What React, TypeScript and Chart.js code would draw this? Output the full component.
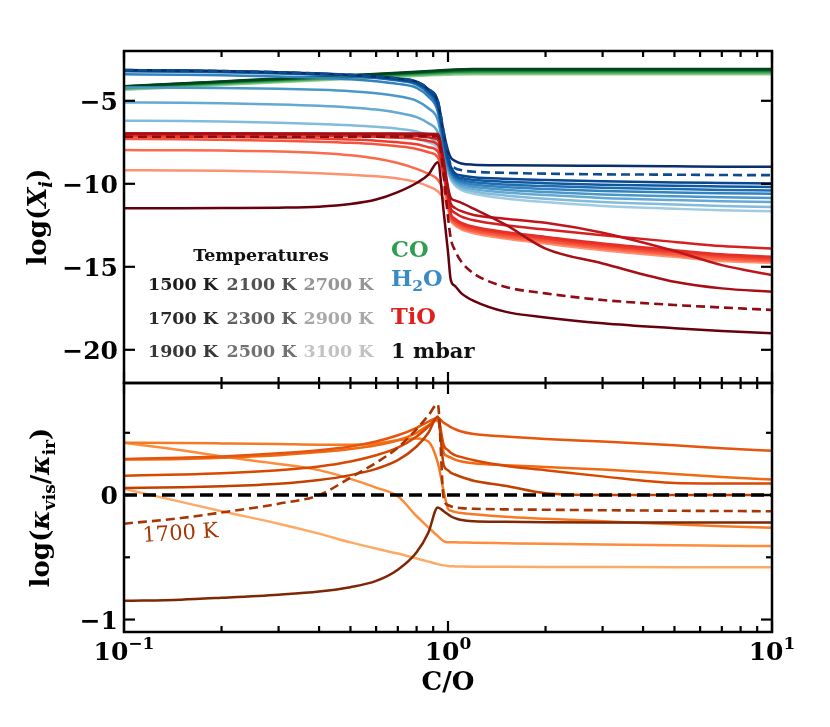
import React, { useEffect, useRef } from "react";
import { Chart, registerables } from "chart.js";

Chart.register(...registerables);

// ---------------- data ----------------
// C/O grid of the model runs
const C_TO_O = [0.1, 0.15, 0.2, 0.3, 0.4, 0.5, 0.6, 0.7, 0.8, 0.87, 0.93, 0.97, 1.0, 1.02, 1.05, 1.1, 1.2, 1.5, 2, 3, 5, 7, 10];
const C_TO_O_CO = [0.1, 0.2, 0.3, 0.5, 0.7, 0.85, 0.95, 1.05, 1.2, 1.5, 3, 10];

const TEMPERATURES = ["1500 K", "1700 K", "1900 K", "2100 K", "2300 K", "2500 K", "2700 K", "2900 K", "3100 K"];

// log X(CO)
const CO_1500 = [-4.12, -3.83, -3.66, -3.45, -3.31, -3.22, -3.16, -3.11, -3.085, -3.08, -3.08, -3.08];
const CO_1700 = [-4.14, -3.85, -3.68, -3.48, -3.34, -3.25, -3.19, -3.14, -3.115, -3.11, -3.11, -3.11];
const CO_1900 = [-4.16, -3.87, -3.7, -3.5, -3.36, -3.27, -3.22, -3.17, -3.145, -3.14, -3.14, -3.14];
const CO_2100 = [-4.18, -3.89, -3.72, -3.52, -3.38, -3.3, -3.25, -3.2, -3.18, -3.17, -3.17, -3.17];
const CO_2300 = [-4.2, -3.91, -3.74, -3.54, -3.41, -3.33, -3.28, -3.24, -3.22, -3.21, -3.21, -3.21];
const CO_2500 = [-4.23, -3.94, -3.77, -3.57, -3.44, -3.36, -3.31, -3.27, -3.25, -3.25, -3.25, -3.25];
const CO_2700 = [-4.26, -3.97, -3.8, -3.6, -3.47, -3.4, -3.35, -3.31, -3.3, -3.3, -3.3, -3.3];
const CO_2900 = [-4.3, -4.01, -3.84, -3.64, -3.51, -3.44, -3.39, -3.36, -3.35, -3.35, -3.35, -3.35];
const CO_3100 = [-4.34, -4.05, -3.88, -3.68, -3.55, -3.48, -3.44, -3.41, -3.4, -3.4, -3.4, -3.4];

// log X(H2O)
const H2O_1500 = [-3.15, -3.18, -3.21, -3.28, -3.36, -3.44, -3.54, -3.66, -3.85, -4.3, -5.0, -6.9, -8.0, -8.42, -8.62, -8.78, -8.85, -8.88, -8.9, -8.92, -8.95, -8.97, -8.98];
const H2O_1700 = [-3.16, -3.19, -3.22, -3.29, -3.37, -3.45, -3.55, -3.68, -3.88, -4.36, -5.15, -7.1, -8.4, -8.95, -9.35, -9.5, -9.6, -9.7, -9.77, -9.85, -9.92, -9.95, -9.98];
const H2O_1900 = [-3.18, -3.21, -3.24, -3.31, -3.39, -3.47, -3.58, -3.72, -3.94, -4.44, -5.3, -7.3, -8.6, -9.1, -9.5, -9.65, -9.76, -9.88, -9.96, -10.05, -10.12, -10.16, -10.2];
const H2O_2100 = [-3.22, -3.25, -3.28, -3.35, -3.43, -3.52, -3.63, -3.78, -4.02, -4.55, -5.45, -7.5, -8.75, -9.25, -9.6, -9.78, -9.9, -10.04, -10.14, -10.24, -10.32, -10.37, -10.4];
const H2O_2300 = [-3.4, -3.43, -3.46, -3.53, -3.61, -3.7, -3.82, -3.98, -4.22, -4.75, -5.65, -7.7, -8.9, -9.35, -9.7, -9.9, -10.04, -10.2, -10.32, -10.44, -10.52, -10.57, -10.6];
const H2O_2500 = [-4.2, -4.21, -4.23, -4.28, -4.34, -4.42, -4.54, -4.72, -5.0, -5.45, -6.15, -7.95, -9.0, -9.45, -9.8, -10.02, -10.18, -10.36, -10.5, -10.64, -10.75, -10.81, -10.85];
const H2O_2700 = [-5.1, -5.12, -5.15, -5.22, -5.3, -5.4, -5.53, -5.72, -5.98, -6.35, -6.9, -8.2, -9.1, -9.55, -9.9, -10.14, -10.32, -10.52, -10.68, -10.85, -10.98, -11.05, -11.1];
const H2O_2900 = [-6.2, -6.22, -6.25, -6.32, -6.4, -6.48, -6.57, -6.68, -6.85, -7.15, -7.65, -8.5, -9.2, -9.65, -10.0, -10.26, -10.46, -10.7, -10.9, -11.1, -11.25, -11.33, -11.4];
const H2O_3100 = [-7.05, -7.05, -7.06, -7.08, -7.1, -7.12, -7.15, -7.2, -7.3, -7.5, -7.85, -8.7, -9.3, -9.75, -10.1, -10.38, -10.6, -10.88, -11.1, -11.33, -11.5, -11.6, -11.65];
const H2O_DASHED = [-3.15, -3.18, -3.21, -3.28, -3.36, -3.44, -3.54, -3.66, -3.85, -4.3, -5.0, -6.9, -8.3, -8.85, -9.05, -9.18, -9.27, -9.34, -9.39, -9.43, -9.45, -9.47, -9.48];

// log X(TiO)
const TIO_1500 = [-11.48, -11.47, -11.46, -11.44, -11.38, -11.22, -10.95, -10.5, -9.95, -9.45, -8.7, -11.7, -14.1, -15.8, -16.15, -16.6, -17.05, -17.7, -18.05, -18.4, -18.7, -18.87, -19.0];
const TIO_1700 = [-6.97, -6.97, -6.97, -6.97, -6.97, -6.97, -6.97, -6.97, -6.97, -6.98, -7.0, -8.6, -10.2, -10.85, -11.0, -11.15, -11.5, -12.45, -13.9, -14.8, -15.9, -16.3, -16.5];
const TIO_1900 = [-6.97, -6.97, -6.97, -6.98, -6.99, -7.0, -7.0, -7.01, -7.02, -7.05, -7.1, -8.8, -10.4, -11.2, -11.45, -11.65, -11.88, -12.1, -12.35, -12.95, -14.05, -14.9, -15.5];
const TIO_2100 = [-7.0, -7.0, -7.0, -7.01, -7.02, -7.03, -7.05, -7.08, -7.12, -7.2, -7.35, -9.0, -10.6, -11.5, -11.75, -11.98, -12.2, -12.5, -12.75, -13.1, -13.5, -13.75, -13.9];
const TIO_2300 = [-7.05, -7.05, -7.06, -7.08, -7.1, -7.13, -7.17, -7.22, -7.3, -7.42, -7.65, -9.2, -10.8, -11.8, -12.1, -12.35, -12.58, -12.9, -13.2, -13.6, -14.0, -14.25, -14.4];
const TIO_2500 = [-7.15, -7.16, -7.18, -7.22, -7.27, -7.33, -7.4, -7.5, -7.62, -7.8, -8.05, -9.4, -10.9, -11.9, -12.2, -12.45, -12.68, -13.0, -13.3, -13.7, -14.1, -14.35, -14.5];
const TIO_2700 = [-7.3, -7.32, -7.35, -7.4, -7.46, -7.53, -7.62, -7.74, -7.9, -8.1, -8.4, -9.6, -11.0, -12.0, -12.3, -12.55, -12.78, -13.1, -13.4, -13.8, -14.2, -14.45, -14.6];
const TIO_2900 = [-7.97, -7.98, -8.0, -8.05, -8.14, -8.28, -8.48, -8.75, -9.1, -9.4, -9.75, -10.4, -11.2, -12.1, -12.4, -12.65, -12.88, -13.2, -13.5, -13.9, -14.3, -14.55, -14.68];
const TIO_3100 = [-9.18, -9.2, -9.22, -9.28, -9.36, -9.45, -9.55, -9.68, -9.9, -10.15, -10.45, -10.9, -11.5, -12.2, -12.5, -12.75, -12.98, -13.3, -13.6, -14.0, -14.4, -14.65, -14.75];
const TIO_DASHED = [-7.17, -7.17, -7.17, -7.17, -7.17, -7.16, -7.16, -7.15, -7.14, -7.13, -7.15, -9.5, -12.0, -13.3, -14.0, -14.7, -15.4, -16.2, -16.6, -17.0, -17.3, -17.45, -17.6];

// log(kappa_vis / kappa_ir)
const KAP_1500 = [-0.85, -0.84, -0.825, -0.8, -0.775, -0.74, -0.69, -0.6, -0.46, -0.3, -0.1, -0.13, -0.155, -0.17, -0.185, -0.2, -0.21, -0.215, -0.218, -0.22, -0.22, -0.22, -0.22];
const KAP_1700 = [-0.23, -0.185, -0.14, -0.07, 0.0, 0.14, 0.26, 0.38, 0.53, 0.64, 0.73, -0.03, -0.08, -0.09, -0.1, -0.105, -0.11, -0.115, -0.118, -0.122, -0.126, -0.128, -0.13];
const KAP_1900 = [0.057, 0.062, 0.07, 0.09, 0.12, 0.16, 0.21, 0.28, 0.39, 0.5, 0.63, 0.24, 0.2, 0.18, 0.165, 0.145, 0.115, 0.075, 0.015, 0.0, 0.0, 0.0, 0.0];
const KAP_2100 = [0.156, 0.165, 0.175, 0.2, 0.23, 0.27, 0.32, 0.38, 0.47, 0.55, 0.62, 0.4, 0.36, 0.34, 0.32, 0.305, 0.28, 0.235, 0.2, 0.15, 0.097, 0.093, 0.092];
const KAP_2300 = [0.29, 0.3, 0.31, 0.335, 0.36, 0.39, 0.43, 0.48, 0.54, 0.59, 0.62, 0.58, 0.56, 0.545, 0.53, 0.51, 0.49, 0.47, 0.45, 0.43, 0.4, 0.375, 0.356];
const KAP_2500 = [0.285, 0.29, 0.3, 0.32, 0.345, 0.37, 0.4, 0.44, 0.5, 0.56, 0.6, 0.34, 0.31, 0.3, 0.285, 0.27, 0.255, 0.24, 0.225, 0.205, 0.17, 0.145, 0.124];
const KAP_2700 = [0.42, 0.418, 0.415, 0.41, 0.405, 0.405, 0.415, 0.44, 0.455, 0.43, 0.26, 0.03, -0.11, -0.125, -0.135, -0.145, -0.155, -0.175, -0.19, -0.21, -0.235, -0.25, -0.262];
const KAP_2900 = [0.42, 0.36, 0.31, 0.25, 0.2, 0.13, 0.06, -0.01, -0.17, -0.26, -0.33, -0.37, -0.38, -0.38, -0.38, -0.381, -0.383, -0.387, -0.392, -0.398, -0.404, -0.407, -0.41];
const KAP_3100 = [0.05, -0.055, -0.13, -0.23, -0.31, -0.38, -0.43, -0.47, -0.51, -0.535, -0.555, -0.565, -0.57, -0.572, -0.573, -0.574, -0.575, -0.576, -0.577, -0.578, -0.579, -0.58, -0.58];
const ZERO_X = [0.1, 10];
const ZERO_Y = [0, 0];

// axes
const X_MAJOR = [0.1, 1, 10];
const X_MINOR = [0.2, 0.3, 0.4, 0.5, 0.6, 0.7, 0.8, 0.9, 2, 3, 4, 5, 6, 7, 8, 9];
const X_TICK_EXP = ["\u22121", "0", "1"];
const Y_TOP_TICKS = [-5, -10, -15, -20];
const Y_BOT_MAJOR = [0, -1];
const Y_BOT_MINOR = [0.5, -0.5];

// ---------------- styles ----------------
const GREENS = ["#00441b", "#03582a", "#0d6d33", "#1b813e", "#2a9349", "#3fa556", "#5bb46b", "#78c37c", "#98d194"];
const BLUES = ["#08306b", "#08478d", "#0e59a2", "#1f6db1", "#3282be", "#4a98c9", "#64a9d3", "#83bbdb", "#a0cbe2"];
const REDS = ["#67000d", "#a50f15", "#bf151b", "#d42020", "#e32f27", "#ef3b2c", "#f5553d", "#fb6a4a", "#fc9272"];
const ORANGES = ["#7f2704", "#a63603", "#c24102", "#d94801", "#e6550d", "#f16913", "#f57a26", "#fd8d3c", "#fdaa66"];
const GRAYS = ["#1c1c1c", "#2a2a2a", "#383838", "#525252", "#606060", "#727272", "#959595", "#a8a8a8", "#c2c2c2"];

const FONT = '"DejaVu Serif", "Liberation Serif", serif';

type Run = { t: string; size: number; bold?: boolean; italic?: boolean; dy?: number };

function fontOf(r: Run) {
  return `${r.italic ? "italic " : ""}${r.bold === false ? "normal" : "bold"} ${r.size}px ${FONT}`;
}

function drawRuns(ctx: CanvasRenderingContext2D, runs: Run[], x: number, y: number, align: "left" | "center" | "right", color: string) {
  ctx.save();
  ctx.fillStyle = color;
  ctx.textBaseline = "alphabetic";
  ctx.textAlign = "left";
  let w = 0;
  const ws = runs.map((r) => {
    ctx.font = fontOf(r);
    const m = ctx.measureText(r.t).width;
    w += m;
    return m;
  });
  let cx = align === "left" ? x : align === "center" ? x - w / 2 : x - w;
  runs.forEach((r, i) => {
    ctx.font = fontOf(r);
    ctx.fillText(r.t, cx, y + (r.dy || 0));
    cx += ws[i];
  });
  ctx.restore();
}

function fmt(v: number) {
  return v < 0 ? "\u2212" + Math.abs(v) : String(v);
}

const framePlugin = {
  id: "frameAndText",
  afterDraw(chart: any) {
    const ctx: CanvasRenderingContext2D = chart.ctx;
    const xs = chart.scales.x;
    const yt = chart.scales.yTop;
    const yb = chart.scales.yBot;
    const L = chart.chartArea.left;
    const R = chart.chartArea.right;
    const T1 = yt.top, B1 = yt.bottom, T2 = yb.top, B2 = yb.bottom;

    ctx.save();
    ctx.strokeStyle = "#000";
    ctx.lineWidth = 2.5;
    ctx.strokeRect(L, T1, R - L, B1 - T1);
    ctx.strokeRect(L, T2, R - L, B2 - T2);

    ctx.lineWidth = 2.2;
    const seg = (x1: number, y1: number, x2: number, y2: number) => {
      ctx.beginPath();
      ctx.moveTo(x1, y1);
      ctx.lineTo(x2, y2);
      ctx.stroke();
    };
    const xt = (v: number, len: number) => {
      const p = xs.getPixelForValue(v);
      seg(p, T1, p, T1 + len);
      seg(p, B1, p, B1 - len);
      seg(p, T2, p, T2 + len);
      seg(p, B2, p, B2 - len);
    };
    X_MAJOR.forEach((v) => xt(v, 11));
    X_MINOR.forEach((v) => xt(v, 6));
    const ytk = (s: any, v: number, len: number) => {
      const p = s.getPixelForValue(v);
      seg(L, p, L + len, p);
      seg(R, p, R - len, p);
    };
    Y_TOP_TICKS.forEach((v) => ytk(yt, v, 11));
    Y_BOT_MAJOR.forEach((v) => ytk(yb, v, 11));
    Y_BOT_MINOR.forEach((v) => ytk(yb, v, 6));
    ctx.restore();

    // y tick labels
    Y_TOP_TICKS.forEach((v) => drawRuns(ctx, [{ t: fmt(v), size: 25 }], L - 6, yt.getPixelForValue(v) + 9, "right", "#000"));
    Y_BOT_MAJOR.forEach((v) => drawRuns(ctx, [{ t: fmt(v), size: 25 }], L - 6, yb.getPixelForValue(v) + 9, "right", "#000"));
    // x tick labels
    X_MAJOR.forEach((v, i) =>
      drawRuns(ctx, [{ t: "10", size: 25 }, { t: X_TICK_EXP[i], size: 17, dy: -11 }], xs.getPixelForValue(v), B2 + 28, "center", "#000")
    );

    // axis titles
    ctx.save();
    ctx.translate(46, (T1 + B1) / 2);
    ctx.rotate(-Math.PI / 2);
    drawRuns(ctx, [{ t: "log(", size: 26 }, { t: "X", size: 26, italic: true }, { t: "i", size: 18, italic: true, dy: 6 }, { t: ")", size: 26 }], 0, 0, "center", "#000");
    ctx.restore();
    ctx.save();
    ctx.translate(49, (T2 + B2) / 2);
    ctx.rotate(-Math.PI / 2);
    drawRuns(
      ctx,
      [
        { t: "log(", size: 26 },
        { t: "\u03ba", size: 26, italic: true },
        { t: "vis", size: 17, dy: 6 },
        { t: "/", size: 26 },
        { t: "\u03ba", size: 26, italic: true },
        { t: "ir", size: 17, dy: 6 },
        { t: ")", size: 26 },
      ],
      0,
      0,
      "center",
      "#000"
    );
    ctx.restore();
    drawRuns(ctx, [{ t: "C/O", size: 26 }], (L + R) / 2, 690, "center", "#000");

    // temperature legend
    drawRuns(ctx, [{ t: "Temperatures", size: 17.5 }], 261, 260.5, "center", "#111");
    const colX = [148, 226.5, 303.5];
    const rowY = [290, 323.5, 357];
    TEMPERATURES.forEach((t, i) => {
      const col = Math.floor(i / 3);
      const row = i % 3;
      drawRuns(ctx, [{ t, size: 17.5 }], colX[col], rowY[row], "left", GRAYS[i]);
    });
    // species legend
    drawRuns(ctx, [{ t: "CO", size: 22.5 }], 391, 256.5, "left", "#2e9e4f");
    drawRuns(ctx, [{ t: "H", size: 22.5 }, { t: "2", size: 15.5, dy: 5 }, { t: "O", size: 22.5 }], 391, 285.5, "left", "#3a8ac8");
    drawRuns(ctx, [{ t: "TiO", size: 22.5 }], 391, 323.5, "left", "#e0201e");
    drawRuns(ctx, [{ t: "1 mbar", size: 21 }], 391, 358, "left", "#111");

    // 1700 K label
    ctx.save();
    ctx.translate(143, 542);
    ctx.rotate((-3.7 * Math.PI) / 180);
    drawRuns(ctx, [{ t: "1700 K", size: 21, bold: false }], 0, 0, "left", "#a63603");
    ctx.restore();
  },
};

function series(xs: number[], ys: number[], color: string, yAxisID: string, dash: number[] = [], width = 2.5, smooth = true) {
  return {
    data: xs.map((x, i) => ({ x, y: ys[i] })),
    borderColor: color,
    backgroundColor: color,
    borderWidth: width,
    borderDash: dash,
    borderCapStyle: "butt",
    borderJoinStyle: "round",
    pointRadius: 0,
    pointHoverRadius: 0,
    fill: false,
    cubicInterpolationMode: smooth ? "monotone" : "default",
    tension: 0,
    yAxisID,
    xAxisID: "x",
  };
}

export default function App() {
  const ref = useRef<HTMLCanvasElement>(null);
  useEffect(() => {
    const canvas = ref.current;
    if (!canvas) return;
    const CO = [CO_1500, CO_1700, CO_1900, CO_2100, CO_2300, CO_2500, CO_2700, CO_2900, CO_3100];
    const H2O = [H2O_1500, H2O_1700, H2O_1900, H2O_2100, H2O_2300, H2O_2500, H2O_2700, H2O_2900, H2O_3100];
    const TIO = [TIO_1500, TIO_1700, TIO_1900, TIO_2100, TIO_2300, TIO_2500, TIO_2700, TIO_2900, TIO_3100];
    const KAP = [KAP_1500, KAP_1700, KAP_1900, KAP_2100, KAP_2300, KAP_2500, KAP_2700, KAP_2900, KAP_3100];

    const ds: any[] = [];
    for (let i = 8; i >= 0; i--) ds.push(series(C_TO_O_CO, CO[i], GREENS[i], "yTop"));
    for (let i = 8; i >= 0; i--) ds.push(series(C_TO_O, H2O[i], BLUES[i], "yTop"));
    ds.push(series(C_TO_O, H2O_DASHED, "#0d4a8f", "yTop", [9, 5], 2.6));
    for (let i = 8; i >= 0; i--) ds.push(series(C_TO_O, TIO[i], REDS[i], "yTop"));
    ds.push(series(C_TO_O, TIO_DASHED, "#8e0c12", "yTop", [9, 5], 2.6));
    for (let i = 8; i >= 0; i--) {
      if (i === 1) continue;
      ds.push(series(C_TO_O, KAP[i], ORANGES[i], "yBot"));
    }
    ds.push(series(C_TO_O, KAP[1], ORANGES[1], "yBot", [9, 5], 2.6));
    ds.push(series(ZERO_X, ZERO_Y, "#000", "yBot", [13, 6], 3.5, false));
    ds.forEach((d, i) => (d.order = -i));

    const chart = new Chart(canvas, {
      type: "line",
      data: { datasets: ds },
      options: {
        animation: false,
        responsive: false,
        devicePixelRatio: 1,
        events: [],
        layout: { padding: { left: 124, right: 58, top: 51, bottom: 95 } },
        plugins: { legend: { display: false }, tooltip: { enabled: false }, title: { display: false } },
        scales: {
          x: { type: "logarithmic", min: 0.1, max: 10, display: false },
          yTop: { type: "linear", min: -22, max: -2, display: false, position: "left", stack: "panels", stackWeight: 4, weight: 2 },
          yBot: { type: "linear", min: -1.1, max: 0.9, display: false, position: "left", stack: "panels", stackWeight: 3, weight: 1 },
        },
      } as any,
      plugins: [framePlugin as any],
    });
    return () => chart.destroy();
  }, []);
  return (
    <div style={{ position: "absolute", left: 0, top: 0, width: 830, height: 727, background: "#fff" }}>
      <canvas ref={ref} width={830} height={727} style={{ display: "block", width: 830, height: 727 }} />
    </div>
  );
}
